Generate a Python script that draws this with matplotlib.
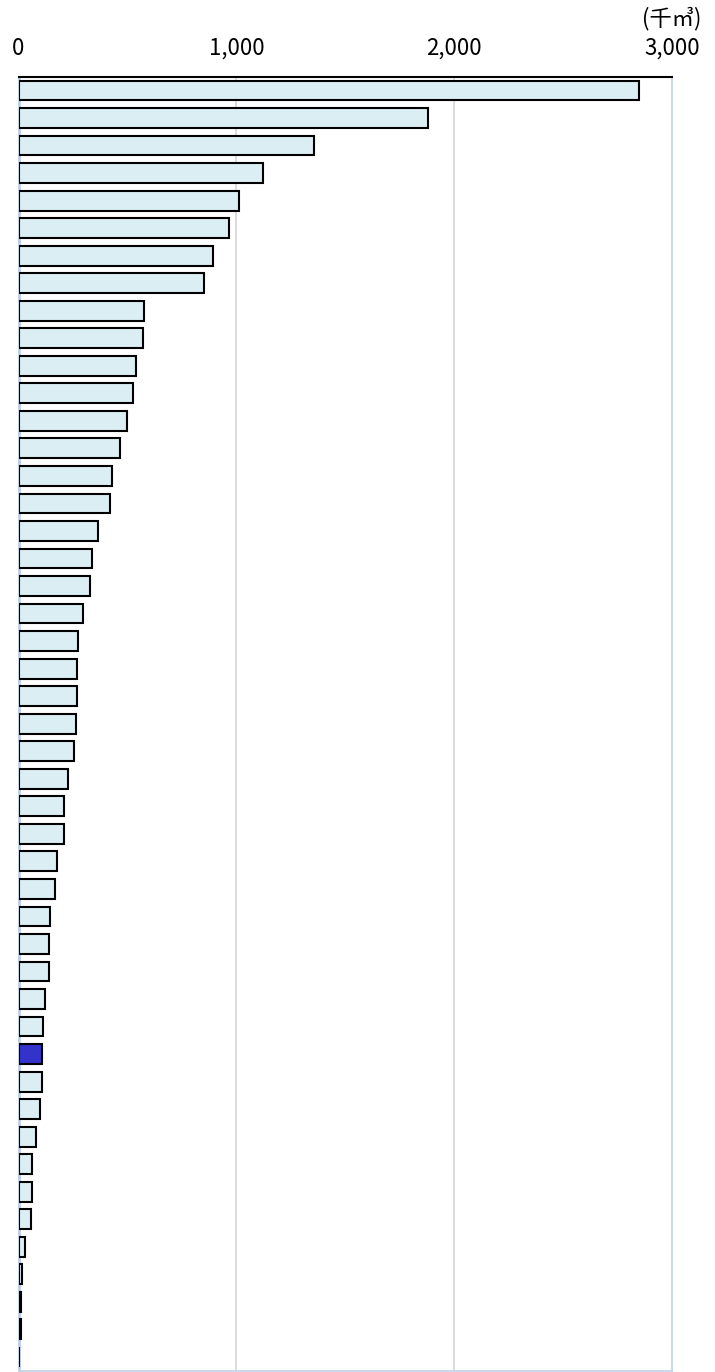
import matplotlib
matplotlib.use("Agg")
import matplotlib.pyplot as plt

plt.rcParams['font.family'] = ['Noto Sans CJK JP', 'DejaVu Sans']

ranks = list(range(1, 48))
values = [2850, 1881, 1356, 1123, 1014, 965, 893, 851,
          576, 573, 541, 524, 497, 466, 429, 422,
          364, 339, 328, 295, 275, 267, 267, 264, 253,
          229, 209, 209, 178, 166, 145, 141, 139, 122,
          114, 108, 106, 99, 79, 64, 60, 59,
          28, 14, 10, 10, 4]
highlight_rank = 36
xticks = [0, 1000, 2000, 3000]
xtick_labels = ["0", "1,000", "2,000", "3,000"]
unit_label = "(千㎥)"

W, H = 715, 1372
fig = plt.figure(figsize=(W / 100, H / 100), dpi=100)
ax = fig.add_axes([18.5 / W, 1.3 / H, (672 - 18.5) / W, (1370.7 - 76.7) / H])

colors = ['#3333CC' if r == highlight_rank else '#DBEEF4' for r in ranks]
ax.barh(ranks, values, height=0.72, color=colors, edgecolor='black', linewidth=1.5, zorder=3)

ax.set_xlim(0, 3000)
ax.set_ylim(47.5, 0.5)

ax.xaxis.tick_top()
ax.set_xticks(xticks)
ax.set_xticklabels(xtick_labels, fontsize=16)
ax.tick_params(axis='x', length=0, pad=12)
ax.set_yticks([])

for x in xticks[1:-1]:
    ax.axvline(x, color='#d9d9d9', linewidth=1.3, zorder=1)

ax.spines['top'].set_color('black')
ax.spines['top'].set_linewidth(1.5)
ax.spines['left'].set_color('#bccde3')
ax.spines['left'].set_linewidth(2)
ax.spines['right'].set_color('#c5d5e8')
ax.spines['right'].set_linewidth(1.3)
ax.spines['bottom'].set_color('#c5d5e8')
ax.spines['bottom'].set_linewidth(1.3)

fig.text(701 / W, 1 - 19 / H, unit_label, ha='right', va='center', fontsize=16)

fig.savefig("out.png", dpi=100)
